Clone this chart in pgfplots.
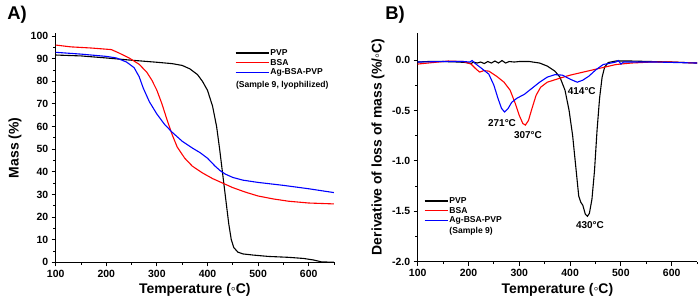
\documentclass[border=0pt]{standalone}
\usepackage{pgfplots}
\pgfplotsset{compat=1.18}
\usepackage{fontspec}
\setmainfont{Liberation Sans}
\begin{document}
\begin{tikzpicture}
\useasboundingbox (0bp,0bp) rectangle (700bp,305bp);
\pgfplotsset{
  common/.style={
    scale only axis,
    axis lines=left,
    axis line style={line width=1.1bp,-},
    tick align=outside,
    major tick length=4bp,
    minor tick length=2.5bp,
    every tick/.style={line width=0.9bp,black},
    tick label style={font=\fontsize{10.5}{12}\selectfont\bfseries},
    /pgf/number format/assume math mode=true,
    label style={font=\fontsize{14}{16}\selectfont\bfseries},
    xmin=100, xmax=650,
    xtick={100,200,...,600},
    minor xtick={150,250,...,650},
    xlabel={Temperature (◦C)},
    every axis plot/.append style={line width=1.1bp},
    legend image code/.code={\draw[##1] (0bp,0bp) -- (33bp,0bp);},
    legend style={draw=none, fill=none, inner sep=0pt,
      font=\fontsize{8.6}{9}\selectfont\bfseries,
      nodes={inner sep=1.2bp}},
    legend cell align=left,
  }
}
\node[font=\fontsize{18.5}{20}\selectfont\bfseries] at (17bp,290bp) {A)};
\node[font=\fontsize{18.5}{20}\selectfont\bfseries] at (395bp,290bp) {B)};

% Panel A
\begin{axis}[common,
  at={(55.7bp,42.7bp)}, anchor=south west,
  width=278.3bp, height=229bp,
  ymin=0, ymax=101.2,
  ytick={0,10,...,100},
  minor ytick={5,15,...,95},
  ylabel={Mass (\%)},
  xlabel style={at={(axis description cs:0.5,-0.122)}, anchor=center},
  ylabel style={at={(axis description cs:-0.146,0.5)}, anchor=center},
  legend style={at={(0.644,0.936)}, anchor=north west},
]
\addplot[black] coordinates {
(100,91.6) (150,91.2) (200,90.3) (250,89.3) (300,88.4) (330,87.8) (350,87.0)
(365,85.5) (380,83.0) (390,80) (400,76) (410,69) (418,60) (424,50) (430,39)
(436,28) (442,17) (447,10) (452,6.5) (460,4.5) (470,3.7) (490,3.2) (520,2.6)
(560,2.2) (590,1.7) (610,1.0) (625,0.2) (650,0)};
\addlegendentry{PVP}
\addplot[red] coordinates {
(100,96.0) (130,95.2) (170,94.7) (210,94.0) (225,92.5) (245,90.3) (265,87.5)
(280,84) (290,80.5) (300,76) (310,70) (320,63) (330,56.5) (340,51) (355,46)
(370,42.5) (390,39.5) (410,37) (430,35) (450,33) (475,31) (500,29.3) (530,28)
(560,27) (600,26.2) (650,25.8)};
\addlegendentry{BSA}
\addplot[blue] coordinates {
(100,92.8) (150,92.0) (200,91.0) (220,90.3) (240,88.5) (255,86) (265,82)
(273,77) (285,71) (300,65.5) (315,61) (330,57.5) (350,53.5) (370,50.5)
(385,48.5) (400,46) (415,42.5) (425,40.5) (435,39) (450,37.5) (470,36.3)
(500,35.3) (550,34) (600,32.5) (650,30.8)};
\addlegendentry{Ag-BSA-PVP}
\node[anchor=west, inner sep=0pt, font=\fontsize{8.6}{9}\selectfont\bfseries]
  at (axis cs:456,78.3) {(Sample 9, lyophilized)};
\end{axis}

% Panel B
\begin{axis}[common,
  at={(417.7bp,43.3bp)}, anchor=south west,
  width=279.4bp, height=228.4bp,
  ymin=-2, ymax=0.265,
  ytick={-2,-1.5,...,0},
  minor ytick={-1.75,-1.25,-0.75,-0.25},
  yticklabel style={/pgf/number format/.cd, fixed, fixed zerofill, precision=1},
  ylabel={Derivative of loss of mass (\%/◦C)},
  xlabel style={at={(axis description cs:0.5,-0.122)}, anchor=center},
  ylabel style={at={(axis description cs:-0.142,0.503)}, anchor=center},
  legend image code/.code={\draw[#1] (0bp,0bp) -- (23bp,0bp);},
  legend style={at={(0.0225,0.288)}, anchor=north west},
]
\addplot[black] coordinates {
(100,-0.02) (120,-0.015) (150,-0.015) (180,-0.02) (195,-0.025) (200,-0.03)
(205,-0.035) (210,-0.02) (217,-0.03) (224,-0.02) (231,-0.035) (238,-0.015)
(245,-0.03) (252,-0.01) (259,-0.03) (266,-0.005) (273,-0.03) (280,-0.015)
(290,-0.02) (300,-0.015) (320,-0.015) (340,-0.03) (355,-0.06) (370,-0.11)
(380,-0.17) (390,-0.3) (398,-0.5) (405,-0.75) (411,-1.05) (417,-1.35)
(421,-1.41) (425,-1.44) (430,-1.53) (434,-1.55) (438,-1.52) (443,-1.38)
(448,-1.1) (453,-0.7) (458,-0.38) (463,-0.17) (468,-0.07) (475,-0.025)
(490,-0.01) (520,-0.01) (560,-0.015) (600,-0.02) (650,-0.03)};
\addlegendentry{PVP}
\addplot[red] coordinates {
(100,-0.04) (130,-0.025) (160,-0.01) (190,-0.015) (205,-0.04) (215,-0.09)
(222,-0.12) (230,-0.105) (240,-0.11) (255,-0.16) (270,-0.22) (282,-0.3)
(292,-0.43) (300,-0.55) (307,-0.63) (312,-0.645) (318,-0.6) (325,-0.48)
(333,-0.35) (342,-0.27) (355,-0.22) (380,-0.18) (400,-0.15) (430,-0.115)
(460,-0.08) (490,-0.045) (520,-0.03) (560,-0.02) (600,-0.02) (650,-0.03)};
\addlegendentry{BSA}
\addplot[blue] coordinates {
(100,-0.02) (150,-0.015) (190,-0.015) (203,-0.02) (207,-0.005) (212,-0.03)
(225,-0.08) (240,-0.14) (250,-0.25) (258,-0.38) (265,-0.48) (271,-0.515)
(278,-0.48) (285,-0.42) (295,-0.38) (310,-0.34) (325,-0.28) (340,-0.22)
(355,-0.17) (370,-0.145) (385,-0.15) (400,-0.19) (414,-0.22) (425,-0.2)
(437,-0.16) (450,-0.1) (465,-0.045) (480,-0.03) (490,-0.02) (495,-0.005)
(500,-0.04) (505,-0.02) (530,-0.02) (570,-0.02) (610,-0.025) (650,-0.03)};
\addlegendentry{Ag-BSA-PVP}
\addlegendimage{empty legend}
\addlegendentry{(Sample 9)}
\node[font=\fontsize{10}{12}\selectfont\bfseries] at (axis cs:266,-0.63) {271°C};
\node[font=\fontsize{10}{12}\selectfont\bfseries] at (axis cs:317,-0.74) {307°C};
\node[font=\fontsize{10}{12}\selectfont\bfseries] at (axis cs:423,-0.305) {414°C};
\node[font=\fontsize{10}{12}\selectfont\bfseries] at (axis cs:439,-1.64) {430°C};
\end{axis}
\end{tikzpicture}
\end{document}
